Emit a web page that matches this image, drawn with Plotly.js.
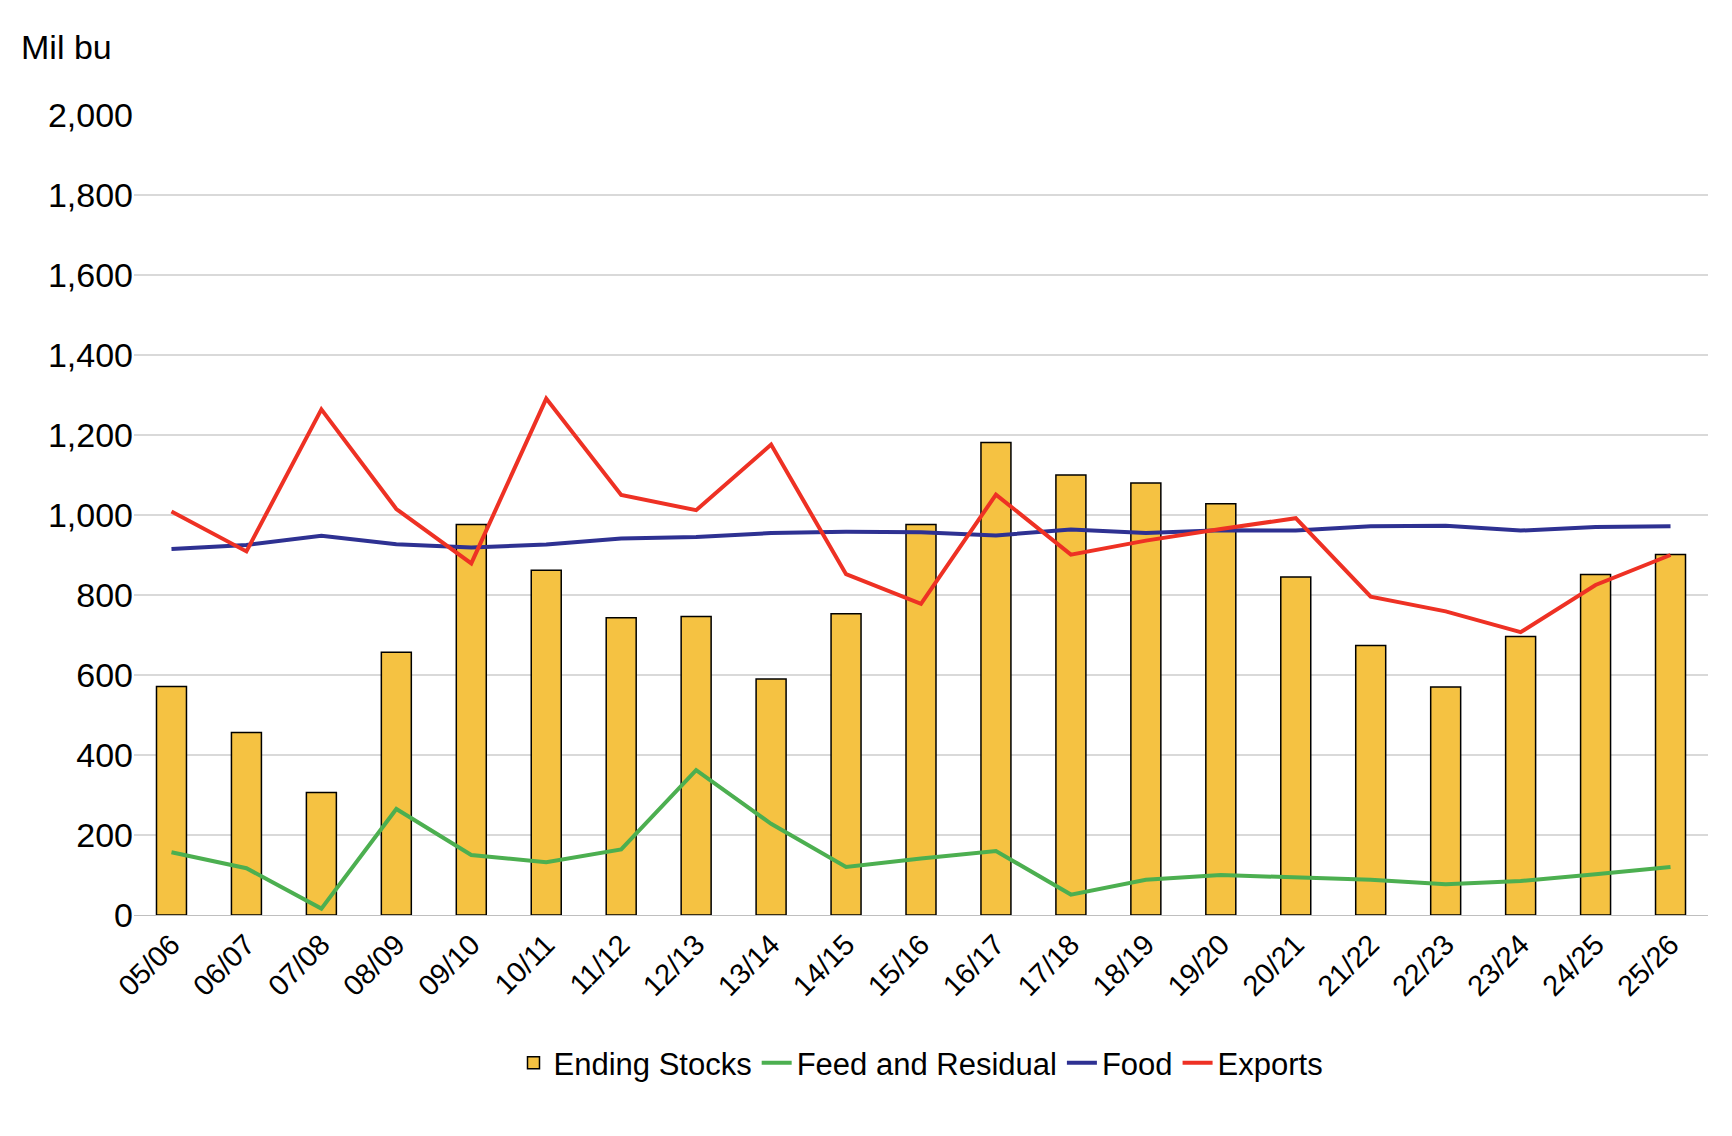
<!DOCTYPE html>
<html><head><meta charset="utf-8">
<script src="https://cdn.plot.ly/plotly-3.0.1.min.js"></script>
<style>body{margin:0;background:#fff}#chart{width:1732px;height:1136px}</style>
</head><body><div id="chart"></div>
<script>
const years = ["05/06","06/07","07/08","08/09","09/10","10/11","11/12","12/13","13/14","14/15","15/16","16/17","17/18","18/19","19/20","20/21","21/22","22/23","23/24","24/25","25/26"];
const endingStocks = [571,456,306,657,976,862,743,746,590,753,976,1181,1100,1080,1028,845,674,570,696,851,901];
const feedResidual = [157,117,16,265,150,132,164,362,228,120,141,160,51,88,100,93,88,77,85,102,120];
const food = [915,925,948,927,919,926,941,945,955,958,957,949,964,955,962,961,972,973,961,970,972];
const exportsData = [1009,909,1264,1015,879,1291,1050,1012,1176,852,778,1051,901,936,965,992,796,759,707,825,900];

const fnt = {family: "Liberation Sans, Arial, sans-serif", size: 34, color: "#000"};
const data = [
  {x: years, y: endingStocks, type: "bar", name: "Ending Stocks",
   marker: {color: "#F5C242", line: {color: "#000", width: 1.5}}},
  {x: years, y: feedResidual, type: "scatter", mode: "lines", name: "Feed and Residual",
   line: {color: "#4CAF50", width: 4}},
  {x: years, y: food, type: "scatter", mode: "lines", name: "Food",
   line: {color: "#2E3192", width: 4}},
  {x: years, y: exportsData, type: "scatter", mode: "lines", name: "Exports",
   line: {color: "#EE3124", width: 4}}
];
const layout = {
  width: 1732, height: 1136,
  margin: {l: 134, r: 24, t: 115, b: 221},
  paper_bgcolor: "#fff", plot_bgcolor: "#fff",
  font: fnt,
  bargap: 0.6,
  showlegend: true,
  legend: {orientation: "h", x: 0.5, xanchor: "center", y: -0.185, yanchor: "middle",
           font: {family: fnt.family, size: 31}},
  xaxis: {tickangle: -45, tickfont: {size: 29}, showline: true, linecolor: "#bfbfbf",
          ticks: "", showgrid: false},
  yaxis: {range: [0, 2000], dtick: 200, tickformat: ",d", gridcolor: "#d9d9d9",
          gridwidth: 1.5, zeroline: false, ticks: "", tickfont: {size: 34}},
  annotations: [{text: "Mil bu", xref: "paper", yref: "paper", x: -0.073, y: 1.085,
                 xanchor: "left", yanchor: "middle", showarrow: false, font: {size: 34}}]
};
Plotly.newPlot("chart", data, layout, {displayModeBar: false});
</script></body></html>
